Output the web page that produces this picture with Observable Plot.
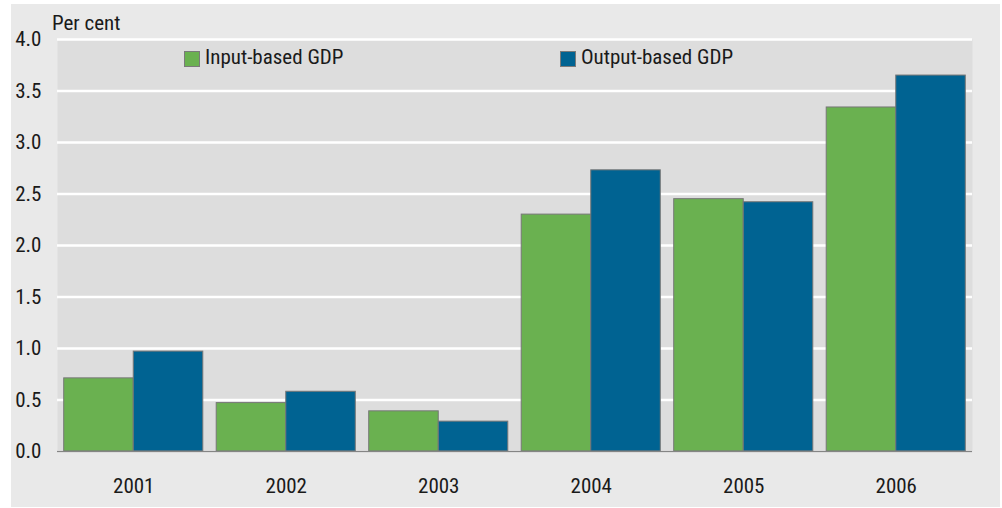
<!DOCTYPE html>
<html>
<head>
<meta charset="utf-8">
<script src="https://cdn.jsdelivr.net/npm/d3@7"></script>
<script src="https://cdn.jsdelivr.net/npm/@observablehq/plot@0.6"></script>
<style>
  html, body { margin: 0; padding: 0; background: #ffffff; }
  #wrap { position: relative; width: 1002px; height: 508px; overflow: hidden;
    font-family: "Liberation Sans Narrow", "Roboto Condensed", "DejaVu Sans Condensed", sans-serif; color: #1a1a1a; }
  #panel { position: absolute; left: 11px; top: 4px; width: 989px; height: 503px; background: #e9e9e9; }
  #chart { position: absolute; left: 0; top: 0; }
  .lbl { position: absolute; font-size: 21px; line-height: 21px; white-space: nowrap; }
  .sw { position: absolute; width: 14px; height: 14px; border: 1px solid #7a7a7a; }
</style>
</head>
<body>
<div id="wrap">
  <div id="panel"></div>
  <div id="chart"></div>
  <div class="lbl" id="unit" style="left:52px; top:13px;">Per cent</div>
  <div class="sw" style="left:184px; top:51px; background:#6ab150;"></div>
  <div class="lbl" style="left:205px; top:47px;">Input-based GDP</div>
  <div class="sw" style="left:560px; top:51px; background:#006392;"></div>
  <div class="lbl" style="left:581px; top:47px;">Output-based GDP</div>
</div>
<script>
const years = [2001, 2002, 2003, 2004, 2005, 2006];
const inputBased = [0.71, 0.47, 0.39, 2.30, 2.45, 3.34];
const outputBased = [0.97, 0.58, 0.29, 2.73, 2.42, 3.65];
const yTicks = [0, 0.5, 1, 1.5, 2, 2.5, 3, 3.5, 4];
const seriesNames = ["Input-based GDP", "Output-based GDP"];
const seriesColors = ["#6ab150", "#006392"];

const inputRows = years.map((year, i) => ({year, value: inputBased[i]}));
const outputRows = years.map((year, i) => ({year, value: outputBased[i]}));
const half = 0.456;

const chart = Plot.plot({
  width: 1002,
  height: 508,
  marginLeft: 57,
  marginRight: 30,
  marginTop: 39,
  marginBottom: 57,
  style: {
    background: "transparent",
    fontFamily: '"Liberation Sans Narrow", "Roboto Condensed", "DejaVu Sans Condensed", sans-serif',
    fontSize: "21px",
    color: "#1a1a1a"
  },
  x: {domain: [2000.5, 2006.5], axis: null},
  y: {domain: [0, 4], axis: null},
  marks: [
    Plot.frame({fill: "#dddddd", stroke: null}),
    Plot.gridY(yTicks, {stroke: "#ffffff", strokeOpacity: 1, strokeWidth: 2.5}),
    Plot.rectY(inputRows, {x1: d => d.year - half, x2: d => d.year, y: "value", fill: seriesColors[0], stroke: "#777777", strokeWidth: 1}),
    Plot.rectY(outputRows, {x1: d => d.year, x2: d => d.year + half, y: "value", fill: seriesColors[1], stroke: "#777777", strokeWidth: 1}),
    Plot.ruleY([0], {stroke: "#858585", strokeWidth: 1.5}),
    Plot.axisY(yTicks, {tickSize: 0, tickPadding: 16, tickFormat: d3.format(".1f"), label: null}),
    Plot.axisX(years, {tickSize: 0, tickPadding: 27, tickFormat: d => String(d), label: null})
  ]
});
document.getElementById("chart").appendChild(chart);
</script>
</body>
</html>
